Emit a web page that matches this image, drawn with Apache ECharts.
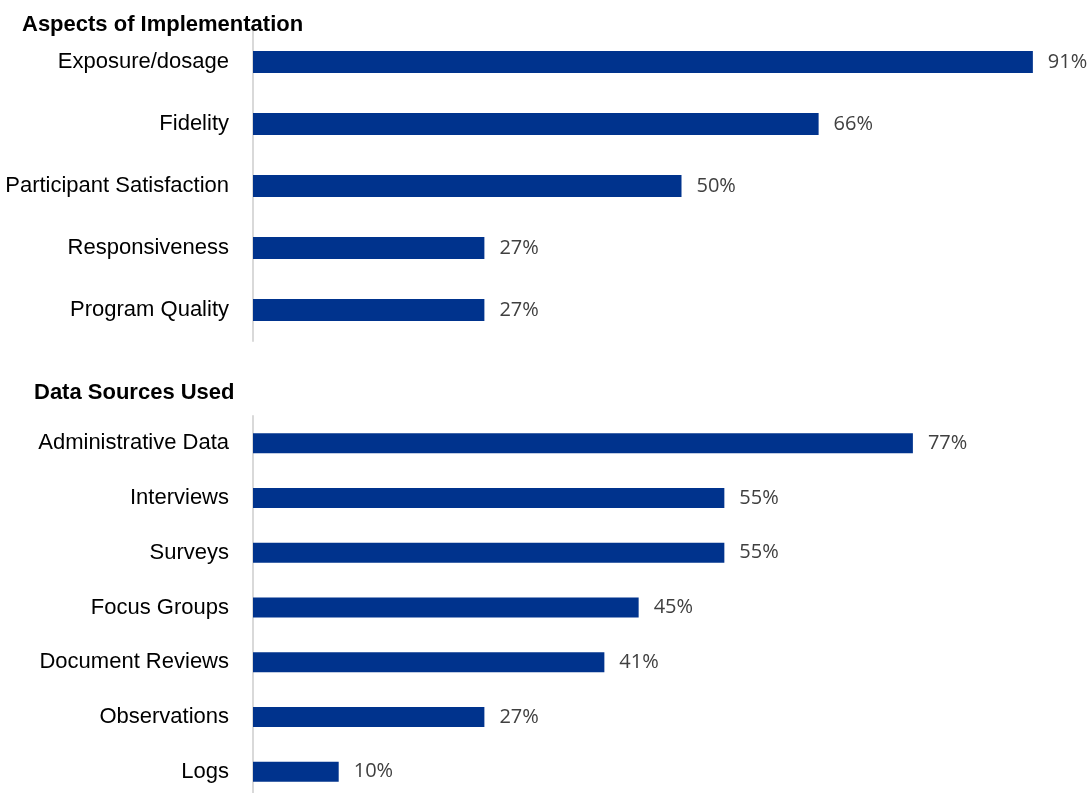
<!DOCTYPE html>
<html><head><meta charset="utf-8">
<script src="https://cdn.jsdelivr.net/npm/echarts@6/dist/echarts.min.js"></script>
<style>html,body{margin:0;padding:0;background:#fff}#c{width:1092px;height:793px}</style>
</head><body><div id="c"></div>
<script>
const topTitle = "Aspects of Implementation";
const topCategories = ["Exposure/dosage","Fidelity","Participant Satisfaction","Responsiveness","Program Quality"];
const topValues = [91,66,50,27,27];
const bottomTitle = "Data Sources Used";
const bottomCategories = ["Administrative Data","Interviews","Surveys","Focus Groups","Document Reviews","Observations","Logs"];
const bottomValues = [77,55,55,45,41,27,10];

const labelFont = '"Liberation Sans Narrow","Arial Narrow","Liberation Sans",sans-serif';
const valueFont = '"Open Sans",sans-serif';
const barColor = '#00338D';

function yAxis(idx, cats){
  return {type:'category', gridIndex:idx, data:cats, inverse:true,
    axisLine:{show:true, lineStyle:{color:'#d9d9d9', width:2}},
    axisTick:{show:false},
    axisLabel:{color:'#000', fontFamily:labelFont, fontSize:22, margin:24}};
}
function xAxis(idx){
  return {type:'value', gridIndex:idx, min:0, max:100, show:false, splitLine:{show:false}};
}
function series(idx, vals, bw){
  return {type:'bar', xAxisIndex:idx, yAxisIndex:idx, data:vals, barWidth:bw,
    itemStyle:{color:barColor}, silent:true,
    label:{show:true, position:'right', distance:15, formatter:'{c}%', color:'#404040', fontFamily:valueFont, fontSize:20}};
}
const chart = echarts.init(document.getElementById('c'), null, {renderer:'canvas'});
chart.setOption({
  animation:false,
  title:[
    {text:topTitle, left:17, top:9, textStyle:{fontFamily:labelFont, fontWeight:'bold', fontSize:22, color:'#000'}},
    {text:bottomTitle, left:29, top:377, textStyle:{fontFamily:labelFont, fontWeight:'bold', fontSize:22, color:'#000'}}
  ],
  grid:[
    {left:253, top:31, width:857, height:310, outerBoundsMode:'none', containLabel:false},
    {left:253, top:416, width:857, height:383, outerBoundsMode:'none', containLabel:false}
  ],
  xAxis:[xAxis(0), xAxis(1)],
  yAxis:[yAxis(0, topCategories), yAxis(1, bottomCategories)],
  series:[series(0, topValues, 22), series(1, bottomValues, 20)]
});
</script></body></html>
